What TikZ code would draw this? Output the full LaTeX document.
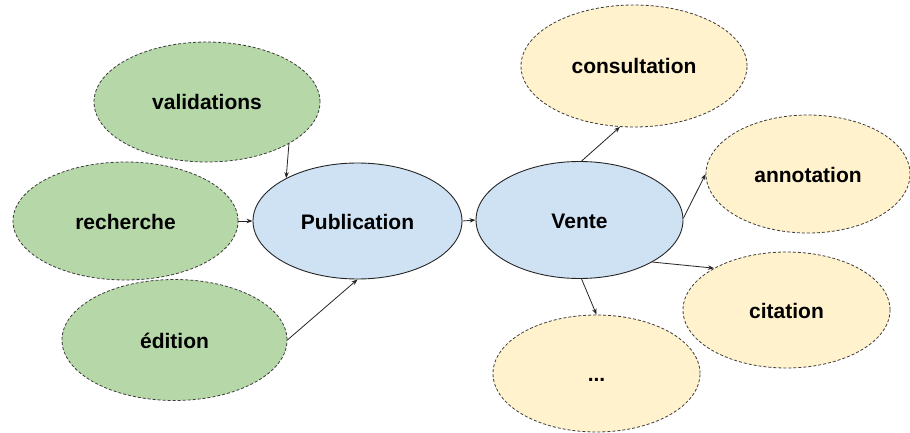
\documentclass[tikz,border=0pt]{standalone}
\usepackage{fontspec}
\setmainfont{Liberation Sans}
\usetikzlibrary{shapes.geometric,arrows.meta}
\definecolor{greenfill}{HTML}{B6D7A8}
\definecolor{bluefill}{HTML}{CFE2F3}
\definecolor{yellowfill}{HTML}{FFF2CC}
\definecolor{edge}{HTML}{3C3C3C}
\tikzset{
  blob/.style={ellipse, inner sep=0pt, text height=16pt, text depth=0pt, font=\fontsize{21}{25}\selectfont\bfseries, text=black},
  greenblob/.style={blob, fill=greenfill, draw=edge, line width=0.8pt, dash pattern=on 3pt off 2pt},
  yellowblob/.style={blob, fill=yellowfill, draw=edge, line width=0.8pt, dash pattern=on 3pt off 2pt},
  blueblob/.style={blob, fill=bluefill, draw=black!85, line width=0.9pt},
  link/.style={draw=black!85, line width=0.8pt, -{Stealth[length=6pt,width=4.5pt]}}
}
\begin{document}
\begin{tikzpicture}[x=1pt,y=-1pt]
\useasboundingbox (0,0) rectangle (910,433);
\fill[white] (0,0) rectangle (910,433);
% left group
\node[greenblob, minimum width=226pt, minimum height=120pt] (valid) at (207,102) {validations};
\node[greenblob, minimum width=225pt, minimum height=118pt] (rech) at (125.5,221) {recherche};
\node[greenblob, minimum width=225pt, minimum height=121pt] (edit) at (174.5,340) {édition};
% centre
\node[blueblob, minimum width=209pt, minimum height=116pt] (pub) at (357.5,221) {Publication};
\node[blueblob, minimum width=207pt, minimum height=117pt] (vente) at (579.5,220) {Vente};
% right group
\node[yellowblob, minimum width=226pt, minimum height=122pt] (consult) at (634,66) {consultation};
\node[yellowblob, minimum width=204pt, minimum height=118pt] (annot) at (808,174) {annotation};
\node[yellowblob, minimum width=207pt, minimum height=116pt] (cit) at (786.5,310) {citation};
\node[yellowblob, minimum width=207pt, minimum height=117pt] (etc) at (596.5,373.5) {...};
% connectors
\draw[link] (valid.-27) -- (pub.149);
\draw[link] (rech.east) -- (pub.west);
\draw[link] (edit.east) -- (pub.south);
\draw[link] (pub.east) -- (vente.west);
\draw[link] (vente.88) -- (consult.257);
\draw[link] (vente.1) -- (annot.180);
\draw[link] (vente.-30) -- (cit.150);
\draw[link] (vente.-88) -- (etc.north);
\end{tikzpicture}
\end{document}
